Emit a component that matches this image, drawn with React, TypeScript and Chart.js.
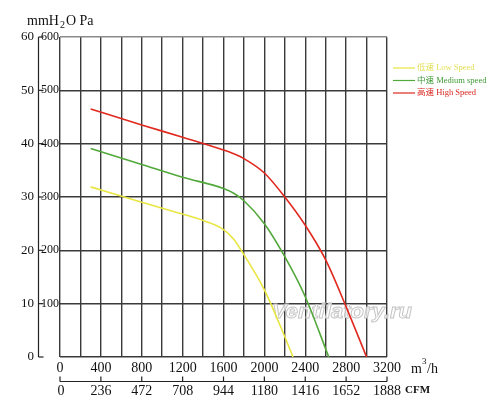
import React, { useEffect, useRef } from "react";
import { Chart, registerables } from "chart.js";

Chart.register(...registerables);

// ---- data ----
const lowSpeedFlow = [300, 800, 1200, 1400, 1600, 1700, 1800, 2000, 2200, 2280];
const lowSpeedPa = [319, 290, 268, 256, 239, 221, 192, 126, 38, 0];
const mediumSpeedFlow = [300, 800, 1200, 1600, 1700, 1800, 2000, 2200, 2400, 2630];
const mediumSpeedPa = [391, 361, 337, 316, 307, 293, 250, 188, 113, 0];
const highSpeedFlow = [300, 800, 1200, 1600, 1700, 1800, 2000, 2200, 2400, 2600, 2800, 3000];
const highSpeedPa = [465, 435, 412, 388, 381, 372, 345, 300, 247, 182, 94, 0];

const flowTicks = [0, 400, 800, 1200, 1600, 2000, 2400, 2800, 3200];
const cfmLabels = ["0", "236", "472", "708", "944", "1180", "1416", "1652", "1888"];
const paTicks = [100, 200, 300, 400, 500, 600];
const mmTicks = [0, 10, 20, 30, 40, 50, 60];

const seriesNames = ["低速 Low Speed", "中速 Medium speed", "高速 High Speed"];
const lineColors = ["#e8e640", "#52a83a", "#e0281e"];
const textColors = ["#e2e05a", "#3f9a35", "#d8261e"];

const SERIF = '"Liberation Serif", "Noto Sans CJK SC", serif';

const pts = (xs: number[], ys: number[]) => xs.map((x, i) => ({ x, y: ys[i] }));

const overlay = {
  id: "overlay",
  beforeDatasetsDraw(chart: any) {
    const { ctx } = chart;
    ctx.save();
    ctx.font = 'italic bold 20px "Liberation Sans", sans-serif';
    const text = "Ventilatory.ru";
    const w = ctx.measureText(text).width;
    const sx = 140 / w;
    ctx.translate(272, 318);
    ctx.scale(sx, 1);
    ctx.textBaseline = "alphabetic";
    ctx.fillStyle = "rgba(252,252,252,0.8)";
    ctx.fillText(text, 0, 0);
    ctx.strokeStyle = "#c4c4c4";
    ctx.lineWidth = 0.9;
    ctx.strokeText(text, 0, 0);
    ctx.restore();
  },
  afterDraw(chart: any) {
    const { ctx } = chart;
    const xs = chart.scales.x;
    const ys = chart.scales.y;
    const top = ys.getPixelForValue(600);
    const bottom = ys.getPixelForValue(0);
    const left = xs.getPixelForValue(0);
    const right = xs.getPixelForValue(3200);
    ctx.save();
    ctx.fillStyle = "#111";
    ctx.strokeStyle = "#222";

    // title mmH2O Pa
    ctx.font = `14px ${SERIF}`;
    ctx.textBaseline = "alphabetic";
    ctx.textAlign = "left";
    let tx = 27;
    const ty = 25;
    ctx.fillText("mmH", tx, ty);
    tx += ctx.measureText("mmH").width;
    ctx.font = `10px ${SERIF}`;
    ctx.fillText("2", tx + 1, ty + 3);
    tx += ctx.measureText("2").width + 2;
    ctx.font = `14px ${SERIF}`;
    ctx.fillText("O Pa", tx, ty);

    // mmH2O axis
    const ax = 38.5;
    ctx.lineWidth = 1.2;
    ctx.beginPath();
    ctx.moveTo(ax, top);
    ctx.lineTo(ax, bottom);
    ctx.stroke();
    ctx.font = `13px ${SERIF}`;
    ctx.textBaseline = "middle";
    mmTicks.forEach((v) => {
      const y = ys.getPixelForValue(v * 10);
      ctx.beginPath();
      ctx.moveTo(ax, y);
      ctx.lineTo(ax + 5, y);
      ctx.stroke();
      ctx.textAlign = "right";
      ctx.fillText(String(v), 34, y);
    });
    ctx.font = `12px ${SERIF}`;
    paTicks.forEach((v) => {
      const y = ys.getPixelForValue(v);
      ctx.textAlign = "right";
      ctx.fillText(String(v), left - 1, y);
    });

    // m3/h labels
    ctx.font = `14px ${SERIF}`;
    ctx.textAlign = "center";
    ctx.textBaseline = "middle";
    flowTicks.forEach((v) => {
      ctx.fillText(String(v), xs.getPixelForValue(v), bottom + 11);
    });
    ctx.textAlign = "left";
    ctx.fillText("m", 411, bottom + 12);
    ctx.font = `9px ${SERIF}`;
    ctx.fillText("3", 422, bottom + 5);
    ctx.font = `14px ${SERIF}`;
    ctx.fillText("/h", 427, bottom + 12);

    // CFM axis
    const cy = bottom + 24.5;
    ctx.lineWidth = 1.2;
    ctx.beginPath();
    ctx.moveTo(left, cy);
    ctx.lineTo(right, cy);
    ctx.stroke();
    ctx.font = `14px ${SERIF}`;
    ctx.textAlign = "center";
    flowTicks.forEach((v, i) => {
      const x = xs.getPixelForValue(v);
      ctx.beginPath();
      ctx.moveTo(x, cy);
      ctx.lineTo(x, cy - 5);
      ctx.stroke();
      const lbl = cfmLabels[i];
      ctx.fillText(lbl, i === 0 ? x + 1 : x, cy + 10);
    });
    ctx.font = `bold 11px ${SERIF}`;
    ctx.textAlign = "left";
    ctx.fillText("CFM", 405, cy + 9);

    // legend
    ctx.font = `8.5px ${SERIF}`;
    ctx.textBaseline = "middle";
    seriesNames.forEach((name, i) => {
      const y = 68 + i * 12.5;
      ctx.strokeStyle = lineColors[i];
      ctx.lineWidth = 1.2;
      ctx.beginPath();
      ctx.moveTo(393, y);
      ctx.lineTo(415, y);
      ctx.stroke();
      ctx.fillStyle = textColors[i];
      ctx.fillText(name, 417, y);
    });
    ctx.restore();
  },
};

export default function App() {
  const ref = useRef<HTMLCanvasElement | null>(null);
  useEffect(() => {
    document.body.style.margin = "0";
    const canvas = ref.current;
    if (!canvas) return;
    const gridColor = (ctx: any) => (ctx.tick && ctx.tick.value === 600 ? "#8a8a8a" : "#3a3a3a");
    const chart = new Chart(canvas, {
      type: "line",
      data: {
        datasets: [
          { label: seriesNames[0], data: pts(lowSpeedFlow, lowSpeedPa), borderColor: lineColors[0] },
          { label: seriesNames[1], data: pts(mediumSpeedFlow, mediumSpeedPa), borderColor: lineColors[1] },
          { label: seriesNames[2], data: pts(highSpeedFlow, highSpeedPa), borderColor: lineColors[2] },
        ].map((d) => ({
          ...d,
          borderWidth: 1.6,
          pointRadius: 0,
          fill: false,
          cubicInterpolationMode: "monotone" as const,
        })),
      },
      options: {
        responsive: false,
        animation: false,
        layout: { padding: { left: 60, right: 113, top: 37, bottom: 60 } },
        plugins: { legend: { display: false }, tooltip: { enabled: false } },
        scales: {
          x: {
            type: "linear",
            min: 0,
            max: 3200,
            ticks: { display: false, stepSize: 200 },
            grid: { color: "#3a3a3a", lineWidth: 1.4, drawTicks: false },
            border: { display: false },
          },
          y: {
            type: "linear",
            min: 0,
            max: 600,
            ticks: { display: false, stepSize: 100 },
            grid: { color: gridColor, lineWidth: 1.4, drawTicks: false },
            border: { display: false },
          },
        },
      },
      plugins: [overlay],
    });
    return () => chart.destroy();
  }, []);
  return (
    <div style={{ width: 500, height: 417, background: "#fff" }}>
      <canvas ref={ref} width={500} height={417} style={{ display: "block" }} />
    </div>
  );
}
